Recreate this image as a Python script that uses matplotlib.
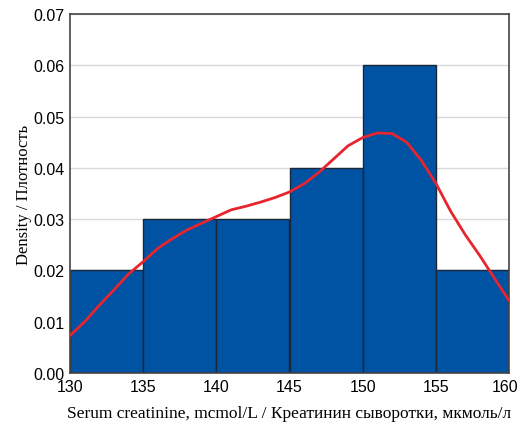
import matplotlib
matplotlib.use("Agg")
import matplotlib.pyplot as plt
from matplotlib.transforms import ScaledTranslation

bin_edges = [130, 135, 140, 145, 150, 155, 160]
densities = [0.02, 0.03, 0.03, 0.04, 0.06, 0.02]

kde_x = [130, 131, 132, 133, 134, 135, 136, 137, 138, 139, 140, 141, 142, 143, 144, 145,
         146, 147, 148, 149, 150, 151, 152, 153, 154, 155, 156, 157, 158, 159, 160]
kde_y = [0.0073, 0.0100, 0.0132, 0.0162, 0.0193, 0.0217, 0.0243, 0.0262, 0.0279, 0.0292,
         0.0305, 0.0318, 0.0325, 0.0333, 0.0342, 0.0353, 0.0369, 0.0391, 0.0417, 0.0443,
         0.0459, 0.0468, 0.0467, 0.0450, 0.0415, 0.0370, 0.0316, 0.0270, 0.0229, 0.0185, 0.0141]

x_ticks = [130, 135, 140, 145, 150, 155, 160]
y_ticks = [0.00, 0.01, 0.02, 0.03, 0.04, 0.05, 0.06, 0.07]

fig = plt.figure(figsize=(5.2, 4.27), dpi=100)
ax = fig.add_axes([70/520, 1-374/427, (509-70)/520, (374-15)/427])

widths = [bin_edges[i+1]-bin_edges[i] for i in range(len(densities))]
ax.bar(bin_edges[:-1], densities, width=widths, align='edge', color='#0052a3',
       edgecolor='#1b2638', linewidth=1.0, zorder=2)
ax.plot(kde_x, kde_y, color='#e8242e', linewidth=2.0, zorder=3, solid_capstyle='round')

ax.set_xlim(130, 160)
ax.set_ylim(0, 0.07)
ax.set_xticks(x_ticks)
ax.set_yticks(y_ticks)
ax.set_xticklabels([str(v) for v in x_ticks], fontfamily='Liberation Sans', fontsize=11.5)
ax.set_yticklabels([f"{v:.2f}" for v in y_ticks], fontfamily='Liberation Sans', fontsize=11.5)
ax.tick_params(length=0, pad=4)
last = ax.get_xticklabels()[-1]
last.set_transform(last.get_transform() + ScaledTranslation(-4/100, 0, fig.dpi_scale_trans))
ax.yaxis.grid(True, color='#d9d9d9', linewidth=1.0, zorder=0)
ax.set_axisbelow(True)
for s in ax.spines.values():
    s.set_color('#444444')
    s.set_linewidth(1.2)

ax.set_xlabel('Serum creatinine, mcmol/L / Креатинин сыворотки, мкмоль/л',
              fontfamily='Liberation Serif', fontsize=12.5, labelpad=8)
ax.set_ylabel('Density / Плотность', fontfamily='Liberation Serif', fontsize=12, labelpad=1)

fig.savefig('out.png', dpi=100)
